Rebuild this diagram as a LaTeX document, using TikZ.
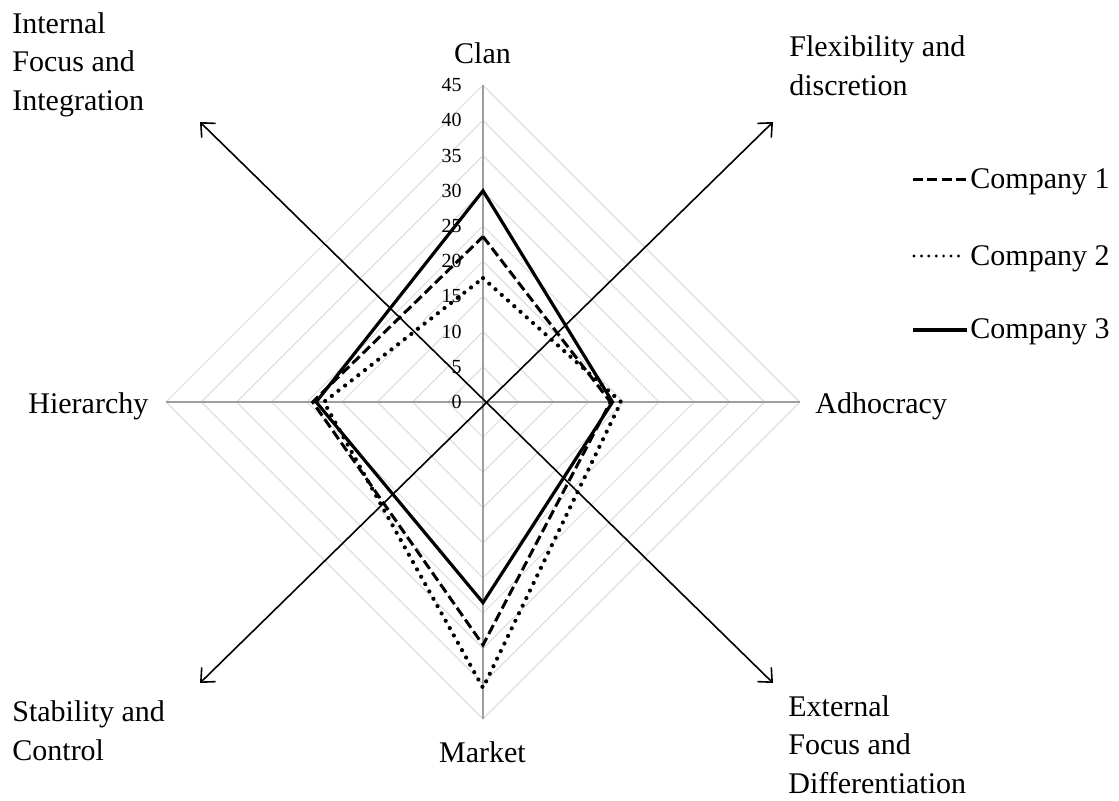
\documentclass[tikz,border=0pt]{standalone}
\usepackage{fontspec}
\setmainfont{Liberation Serif}
\usetikzlibrary{arrows.meta}
\begin{document}
\begin{tikzpicture}[x=0.5pt,y=-0.5pt,
  lab/.style={font=\fontsize{15}{19.25}\selectfont, inner sep=0pt, align=left},
  tick/.style={font=\fontsize{10}{12}\selectfont, inner sep=0pt, anchor=east},
  spoke/.style={draw=black!38, line width=0.6pt},
  ring/.style={draw=black!14, line width=0.5pt},
  axisarrow/.style={line width=0.8pt,
    {Straight Barb[length=5.5pt,width=10pt]}-{Straight Barb[length=5.5pt,width=10pt]}},
  comp1/.style={line width=1.5pt, dash pattern=on 5pt off 2.2pt},
  comp2/.style={line width=2.1pt, line cap=round, dash pattern=on 0pt off 4.2pt},
  comp3/.style={line width=1.6pt},
]
\useasboundingbox (0,0) rectangle (1119,800);

% radar grid, values 0..45 in steps of 5
\begin{scope}[shift={(483,402)}, x=3.52pt, y=3.52pt]
  \foreach \r in {5,10,...,45}
    \draw[ring] (0,\r) -- (\r,0) -- (0,-\r) -- (-\r,0) -- cycle;
  \draw[spoke] (0,45) -- (0,-45);
  \draw[spoke] (-45,0) -- (45,0);
  \foreach \r in {0,5,...,45}
    \node[tick, xshift=-10.5pt] (tick\r) at (0,\r) {\r};
\end{scope}

% competing-values diagonals
\coordinate (ll) at (200,683);
\coordinate (ur) at (773,122);
\coordinate (lr) at (773,683);
\coordinate (ul) at (200,122);
\draw[axisarrow] (ll) -- (ur);
\draw[axisarrow] (lr) -- (ul);

% company profiles: Clan (up), Adhocracy (right), Market (down), Hierarchy (left)
\begin{scope}[shift={(483,402)}, x=3.52pt, y=3.52pt]
  \draw[comp2] (0,17.6) -- (19.6,0) -- (0,-40.6) -- (-22.6,0) -- cycle;
  \draw[comp1] (0,23.5) -- (18.1,0) -- (0,-34.5) -- (-24.2,0) -- cycle;
  \draw[comp3] (0,30) -- (18.4,0) -- (0,-28.5) -- (-23.7,0) -- cycle;
\end{scope}

% culture type labels
\node[lab, anchor=base] (clan) at (482.5,63) {Clan};
\node[lab, anchor=base] (market) at (482.5,762) {Market};
\node[lab, anchor=base west] (hier) at (28,413) {Hierarchy};
\node[lab, anchor=base west] (adho) at (815,413) {Adhocracy};

% dimension labels (base anchor sits on the last line)
\node[lab, anchor=base west] (iff) at (12,110) {Internal\\Focus and\\Integration};
\node[lab, anchor=base west] (flex) at (789,95) {Flexibility and\\discretion};
\node[lab, anchor=base west] (stab) at (12,760) {Stability and\\Control};
\node[lab, anchor=base west] (ext) at (788,793) {External\\Focus and\\Differentiation};

% legend
\coordinate (k1a) at (913,179.5); \coordinate (k1b) at (966,179.5);
\coordinate (k2a) at (914,256);   \coordinate (k2b) at (962,256);
\coordinate (k3a) at (913,330);   \coordinate (k3b) at (967,330);
\draw[comp1] (k1a) -- (k1b);
\draw[comp2, line width=1.6pt, dash pattern=on 0pt off 3.7pt] (k2a) -- (k2b);
\draw[comp3] (k3a) -- (k3b);
\node[lab, anchor=base west] (c1) at (970,188) {Company 1};
\node[lab, anchor=base west] (c2) at (970,265) {Company 2};
\node[lab, anchor=base west] (c3) at (970,338) {Company 3};
\end{tikzpicture}
\end{document}
